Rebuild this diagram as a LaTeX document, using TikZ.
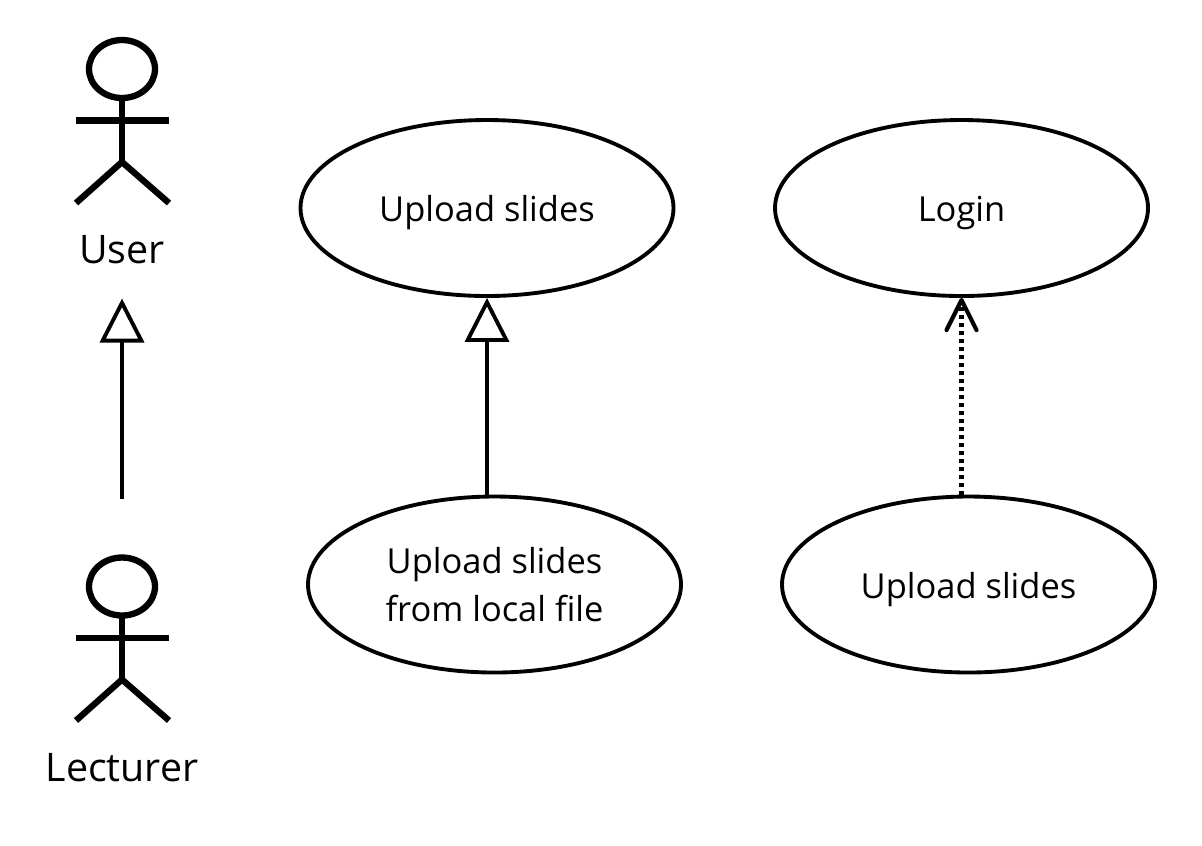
\documentclass[tikz,border=0pt]{standalone}
\usepackage{fontspec}
\setmainfont{Open Sans}
\usetikzlibrary{arrows.meta,positioning,shapes.geometric}
\tikzset{
	usecase/.style={draw, ellipse, line width=1.1pt, minimum width=3.73cm, minimum height=1.76cm, inner sep=0pt, align=center},
	oneline/.style={text height=10pt, text depth=2.2pt},
	actorlabel/.style={inner sep=0pt, font=\fontsize{11.2}{13}\selectfont},
	stick/.pic={
		\draw[line width=1.8pt] (0,0) ellipse (.33 and .29);
		\draw[line width=1.8pt] (0,-.29)--(0,-.93);
		\draw[line width=1.8pt] (-.46,-.515)--(.47,-.515);
		\draw[line width=1.8pt] (-.46,-1.34)--(0,-.93)--(.47,-1.34);
	},
	inherit/.style={line width=1.1pt, -{Triangle[open, length=.44cm, width=.44cm]}},
	depend/.style={line width=1.4pt, dash pattern=on .04cm off .04cm, -{Straight Barb[length=.3cm, width=.3cm, line width=1.2pt, round]}}
}
\begin{document}
\begin{tikzpicture}[font=\fontsize{9.8}{13.6}\selectfont, line join=round]
	\useasboundingbox (0,0) rectangle (12.02,-8.45);
	\pic at (1.22,-.69) {stick};
	\pic at (1.22,-5.865) {stick};
	\node[actorlabel] (user) at (1.22,-2.5) {User};
	\node[actorlabel] (lecturer) at (1.22,-7.68) {Lecturer};
	\coordinate (lecturertop) at (1.22,-4.985);
	\coordinate (usertip) at (1.22,-2.985);
	\node[usecase, oneline] (upload) at (4.87,-2.08) {Upload slides};
	\node[usecase, oneline] (login) at (9.615,-2.08) {Login};
	\node[usecase] (local) at (4.945,-5.845) {Upload slides\\from local file};
	\node[usecase, oneline] (upload2) at (9.685,-5.845) {Upload slides};
	\draw[inherit] (lecturertop)--(usertip);
	\draw[inherit] (upload.south|-local.north)--(upload.south);
	\draw[depend] (login.south|-upload2.north)--(login.south);
\end{tikzpicture}
\end{document}
